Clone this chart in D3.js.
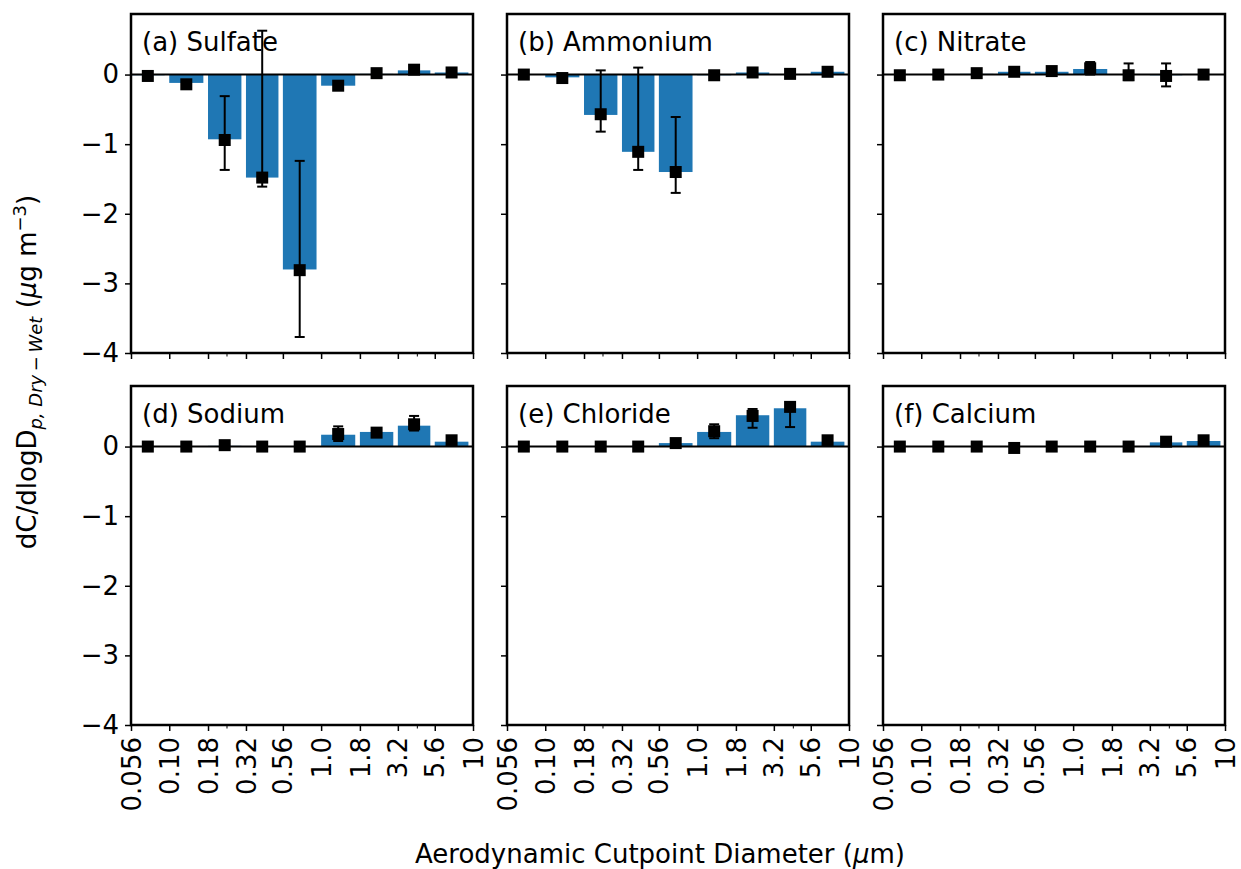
<!DOCTYPE html>
<meta charset="utf-8">
<head>
<title>Dry - Wet size distributions</title>
<script src="https://d3js.org/d3.v7.min.js"></script>
<style>
  body { margin: 0; background: white; }
  text { font-family: "DejaVu Sans", sans-serif; fill: black; }
</style>
</head>

<div id="chart"></div>

<script>
  // impactor cutpoints (bin edges) and their labels
  var cutpoints = [0.056, 0.10, 0.18, 0.32, 0.56, 1.0, 1.8, 3.2, 5.6, 10];
  var cutLabels = ["0.056", "0.10", "0.18", "0.32", "0.56", "1.0", "1.8", "3.2", "5.6", "10"];
  var minorTicks = [0.24, 4.3];
  var yTicks = [0, -1, -2, -3, -4];

  var panelNames = ["(a) Sulfate", "(b) Ammonium", "(c) Nitrate",
                    "(d) Sodium", "(e) Chloride", "(f) Calcium"];

  // bar heights (dC/dlogDp, dry - wet)
  var sulfateBar  = [-0.01, -0.12, -0.93, -1.48, -2.80, -0.16, 0.01, 0.06, 0.03];
  var ammoniumBar = [0.00, -0.04, -0.58, -1.11, -1.40, -0.01, 0.03, 0.00, 0.04];
  var nitrateBar  = [0.00, 0.00, 0.01, 0.04, 0.04, 0.08, 0.00, -0.01, 0.00];
  var sodiumBar   = [0.00, 0.00, 0.01, 0.00, 0.00, 0.17, 0.21, 0.30, 0.07];
  var chlorideBar = [0.00, 0.00, 0.00, 0.00, 0.05, 0.21, 0.45, 0.55, 0.07];
  var calciumBar  = [0.00, 0.00, 0.00, 0.00, 0.00, 0.00, 0.00, 0.06, 0.08];

  // square markers
  var sulfateMark  = [-0.02, -0.14, -0.94, -1.48, -2.81, -0.16, 0.02, 0.07, 0.03];
  var ammoniumMark = [0.00, -0.05, -0.57, -1.11, -1.40, -0.01, 0.03, 0.01, 0.04];
  var nitrateMark  = [-0.01, 0.00, 0.02, 0.04, 0.05, 0.09, -0.01, -0.02, 0.00];
  var sodiumMark   = [0.00, 0.00, 0.02, 0.00, 0.00, 0.18, 0.20, 0.32, 0.09];
  var chlorideMark = [0.00, 0.00, 0.00, 0.00, 0.05, 0.22, 0.44, 0.57, 0.09];
  var calciumMark  = [0.00, 0.00, 0.00, -0.02, 0.00, 0.00, 0.00, 0.07, 0.09];

  // error bar ends (low / high)
  var sulfateLo  = [-0.04, -0.17, -1.37, -1.61, -3.77, -0.19, 0.00, 0.05, 0.01];
  var sulfateHi  = [0.00, -0.11, -0.31, 0.63, -1.24, -0.13, 0.04, 0.09, 0.05];
  var ammoniumLo = [-0.02, -0.07, -0.82, -1.37, -1.70, -0.03, 0.01, -0.01, 0.02];
  var ammoniumHi = [0.02, -0.03, 0.06, 0.10, -0.61, 0.01, 0.05, 0.03, 0.06];
  var nitrateLo  = [-0.03, -0.02, 0.00, 0.02, 0.03, 0.00, -0.08, -0.17, -0.02];
  var nitrateHi  = [0.01, 0.02, 0.04, 0.06, 0.07, 0.18, 0.16, 0.16, 0.02];
  var sodiumLo   = [-0.02, -0.02, 0.00, -0.02, -0.02, 0.08, 0.16, 0.23, 0.07];
  var sodiumHi   = [0.02, 0.02, 0.04, 0.02, 0.02, 0.29, 0.24, 0.44, 0.11];
  var chlorideLo = [-0.02, -0.02, -0.02, -0.02, 0.03, 0.12, 0.27, 0.28, 0.07];
  var chlorideHi = [0.02, 0.02, 0.02, 0.02, 0.07, 0.32, 0.54, 0.60, 0.11];
  var calciumLo  = [-0.02, -0.02, -0.02, -0.04, -0.02, -0.02, -0.02, 0.05, 0.07];
  var calciumHi  = [0.02, 0.02, 0.02, 0.00, 0.02, 0.02, 0.02, 0.09, 0.11];

  var bars  = [sulfateBar, ammoniumBar, nitrateBar, sodiumBar, chlorideBar, calciumBar];
  var marks = [sulfateMark, ammoniumMark, nitrateMark, sodiumMark, chlorideMark, calciumMark];
  var errLo = [sulfateLo, ammoniumLo, nitrateLo, sodiumLo, chlorideLo, calciumLo];
  var errHi = [sulfateHi, ammoniumHi, nitrateHi, sodiumHi, chlorideHi, calciumHi];

  // layout
  var W = 1241, H = 869;
  var panelW = 342, panelH = 339;
  var lefts = [131, 507, 883];
  var tops = [14, 386];
  var fontSize = 26;
  var markSize = 12;
  var barColor = "#1f77b4";

  var svg = d3.select("#chart")
    .append("svg")
      .attr("width", W)
      .attr("height", H);

  var x = d3.scaleLog()
    .domain([cutpoints[0], cutpoints[cutpoints.length - 1]])
    .range([0, panelW]);

  var y = d3.scaleLinear()
    .domain([-4, 0.87])
    .range([panelH, 0]);

  var minus = function(v) { return d3.format("d")(v).replace("-", "\u2212"); };

  panelNames.forEach(function(name, p) {
    var col = p % 3, row = Math.floor(p / 3);
    var g = svg.append("g")
      .attr("transform", "translate(" + lefts[col] + "," + tops[row] + ")");

    // one row per bin
    var rows = bars[p].map(function(v, i) {
      var x0 = x(cutpoints[i]);
      var x1 = x0 + 0.88 * (x(cutpoints[i + 1]) - x0);
      return {x0: x0, x1: x1, xc: (x0 + x1) / 2, bar: v,
              mark: marks[p][i], lo: errLo[p][i], hi: errHi[p][i]};
    });

    // bars
    g.selectAll(".bar")
      .data(rows)
      .enter()
      .append("rect")
        .attr("class", "bar")
        .attr("x", function(d) { return d.x0; })
        .attr("width", function(d) { return d.x1 - d.x0; })
        .attr("y", function(d) { return y(Math.max(0, d.bar)); })
        .attr("height", function(d) { return Math.abs(y(d.bar) - y(0)); })
        .style("fill", barColor);

    // zero line
    g.append("line")
      .attr("x1", 0).attr("x2", panelW)
      .attr("y1", y(0)).attr("y2", y(0))
      .style("stroke", "black")
      .style("stroke-width", 2);

    // error bars
    var eb = g.selectAll(".err")
      .data(rows)
      .enter()
      .append("g")
        .attr("class", "err");
    eb.append("line")
      .attr("x1", function(d) { return d.xc; })
      .attr("x2", function(d) { return d.xc; })
      .attr("y1", function(d) { return y(d.lo); })
      .attr("y2", function(d) { return y(d.hi); })
      .style("stroke", "black").style("stroke-width", 2);
    ["lo", "hi"].forEach(function(k) {
      eb.append("line")
        .attr("x1", function(d) { return d.xc - 5; })
        .attr("x2", function(d) { return d.xc + 5; })
        .attr("y1", function(d) { return y(d[k]); })
        .attr("y2", function(d) { return y(d[k]); })
        .style("stroke", "black").style("stroke-width", 2);
    });

    // square markers
    g.selectAll(".mark")
      .data(rows)
      .enter()
      .append("rect")
        .attr("class", "mark")
        .attr("x", function(d) { return d.xc - markSize / 2; })
        .attr("y", function(d) { return y(d.mark) - markSize / 2; })
        .attr("width", markSize)
        .attr("height", markSize)
        .style("fill", "black");

    // y axis
    var yAxis = g.append("g")
      .call(d3.axisLeft(y).tickValues(yTicks).tickSize(6).tickPadding(6)
        .tickFormat(col === 0 ? minus : ""));
    yAxis.select(".domain").remove();
    yAxis.selectAll("line").style("stroke-width", 1.5);
    yAxis.selectAll("text").style("font-size", fontSize + "px")
      .style("font-family", "DejaVu Sans");

    // x axis
    var xAxis = g.append("g")
      .attr("transform", "translate(0," + panelH + ")")
      .call(d3.axisBottom(x).tickValues(cutpoints).tickSize(6).tickPadding(8)
        .tickFormat(function(d, i) { return row === 1 ? cutLabels[i] : ""; }));
    xAxis.select(".domain").remove();
    xAxis.selectAll("line").style("stroke-width", 1.5);
    xAxis.selectAll("text")
      .style("font-size", fontSize + "px")
      .style("font-family", "DejaVu Sans")
      .attr("transform", "rotate(-90)")
      .attr("x", -12)
      .attr("y", 0)
      .attr("dy", "0.35em")
      .style("text-anchor", "end");

    // minor ticks
    g.selectAll(".minor")
      .data(minorTicks)
      .enter()
      .append("line")
        .attr("x1", function(d) { return x(d); })
        .attr("x2", function(d) { return x(d); })
        .attr("y1", panelH).attr("y2", panelH + 3.5)
        .style("stroke", "black").style("stroke-width", 1);

    // frame
    g.append("rect")
      .attr("width", panelW)
      .attr("height", panelH)
      .style("fill", "none")
      .style("stroke", "black")
      .style("stroke-width", 2.5);

    // panel title
    g.append("text")
      .attr("x", 11)
      .attr("y", 37)
      .style("font-size", fontSize + "px")
      .text(name);
  });

  // x axis title
  svg.append("text")
    .attr("x", 660)
    .attr("y", 863)
    .attr("text-anchor", "middle")
    .style("font-size", fontSize + "px")
    .call(function(t) {
      t.append("tspan").text("Aerodynamic Cutpoint Diameter (");
      t.append("tspan").style("font-style", "italic").text("\u03bc");
      t.append("tspan").text("m)");
    });

  // y axis title
  var yl = svg.append("text")
    .attr("transform", "translate(36,372) rotate(-90)")
    .attr("text-anchor", "middle")
    .style("font-size", fontSize + "px");
  yl.append("tspan").text("dC/dlogD");
  yl.append("tspan").attr("dy", 6).style("font-size", "18px").style("font-style", "italic")
    .text("p, Dry\u2009\u2212\u2009Wet");
  yl.append("tspan").attr("dy", -6).text(" (");
  yl.append("tspan").style("font-style", "italic").text("\u03bc");
  yl.append("tspan").text("g m");
  yl.append("tspan").attr("dy", -10).style("font-size", "18px").text("\u22123");
  yl.append("tspan").attr("dy", 10).text(")");
</script>
